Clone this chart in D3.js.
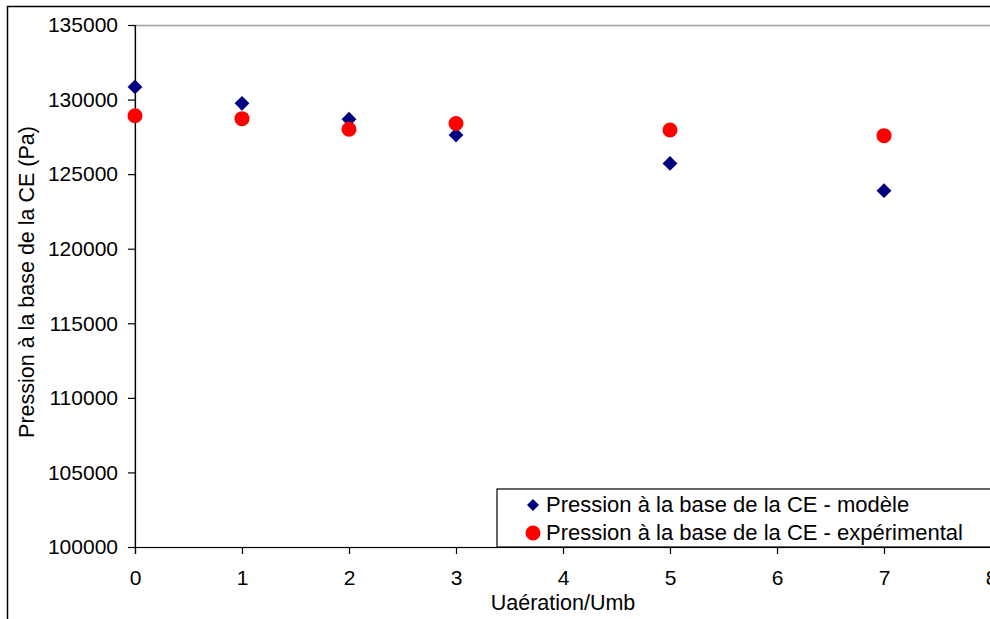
<!DOCTYPE html>
<html><head><meta charset="utf-8">
<script src="https://cdn.jsdelivr.net/npm/d3@7"></script>
<style>body{margin:0;background:#fff;}svg{display:block;font-family:"Liberation Sans",Arial,sans-serif;}</style>
</head><body>
<svg id="c" width="990" height="619"></svg>
<script>
const xValues = [0, 1, 2, 3, 5, 7];
const modelValues = [130850, 129750, 128680, 127620, 125720, 123890];
const expValues = [128920, 128720, 128010, 128400, 127960, 127580];
const yTicks = [100000, 105000, 110000, 115000, 120000, 125000, 130000, 135000];
const xTicks = [0, 1, 2, 3, 4, 5, 6, 7, 8];
const seriesNames = ["Pression à la base de la CE - modèle", "Pression à la base de la CE - expérimental"];
const xTitle = "Uaération/Umb";
const yTitle = "Pression à la base de la CE (Pa)";

const svg = d3.select("#c");
const L = 135, R = 991, T = 25, B = 547;
const x = d3.scaleLinear().domain([0, 8]).range([L, R]);
const y = d3.scaleLinear().domain([100000, 135000]).range([B, T]);

// outer chart border
svg.append("rect").attr("x", 7.5).attr("y", 6.5).attr("width", 1000).attr("height", 620)
  .attr("fill", "none").attr("stroke", "#000").attr("stroke-width", 1.5);

// plot area border (gray)
svg.append("rect").attr("x", L).attr("y", T + 0.5).attr("width", R - L).attr("height", B - T)
  .attr("fill", "none").attr("stroke", "#a0a0a0").attr("stroke-width", 1.5);

// axes
const yAxis = d3.axisLeft(y).tickValues(yTicks).tickSize(7).tickPadding(10).tickFormat(d => d);
const gy = svg.append("g").attr("transform", `translate(${L},0)`).call(yAxis);
const xAxis = d3.axisBottom(x).tickValues(xTicks).tickSize(7).tickPadding(16).tickFormat(d => d);
const gx = svg.append("g").attr("transform", `translate(0,${B})`).call(xAxis);
[gx, gy].forEach(g => {
  g.selectAll("path").attr("stroke", "#000").attr("stroke-width", 1.2);
  g.selectAll("line").attr("stroke", "#000").attr("stroke-width", 1.2);
  g.selectAll("text").attr("font-size", 21).attr("fill", "#000").attr("font-family", '"Liberation Sans",Arial,sans-serif');
});

// axis titles
svg.append("text").attr("x", (L + R) / 2).attr("y", 610).attr("text-anchor", "middle")
  .attr("font-size", 21.5).text(xTitle);
svg.append("text").attr("transform", `translate(34,282) rotate(-90)`).attr("text-anchor", "middle")
  .attr("font-size", 21.5).text(yTitle);

// series
svg.append("g").selectAll("path").data(xValues).join("path")
  .attr("d", d3.symbol().type(d3.symbolSquare).size(110))
  .attr("transform", (d, i) => `translate(${x(d)},${y(modelValues[i])}) rotate(45)`)
  .attr("fill", "#000080");
svg.append("g").selectAll("circle").data(xValues).join("circle")
  .attr("cx", d => x(d)).attr("cy", (d, i) => y(expValues[i])).attr("r", 7.5)
  .attr("fill", "#ff0000");

// legend
const lg = svg.append("g");
lg.append("rect").attr("x", 497).attr("y", 489).attr("width", 520).attr("height", B - 489)
  .attr("fill", "#fff").attr("stroke", "#000").attr("stroke-width", 1.2);
lg.append("path").attr("d", d3.symbol().type(d3.symbolSquare).size(72))
  .attr("transform", "translate(533,505) rotate(45)").attr("fill", "#000080");
lg.append("circle").attr("cx", 533).attr("cy", 533).attr("r", 7.5).attr("fill", "#ff0000");
lg.append("text").attr("x", 546).attr("y", 512).attr("font-size", 22).text(seriesNames[0]);
lg.append("text").attr("x", 546).attr("y", 540).attr("font-size", 22).text(seriesNames[1]);
</script>
</body></html>
